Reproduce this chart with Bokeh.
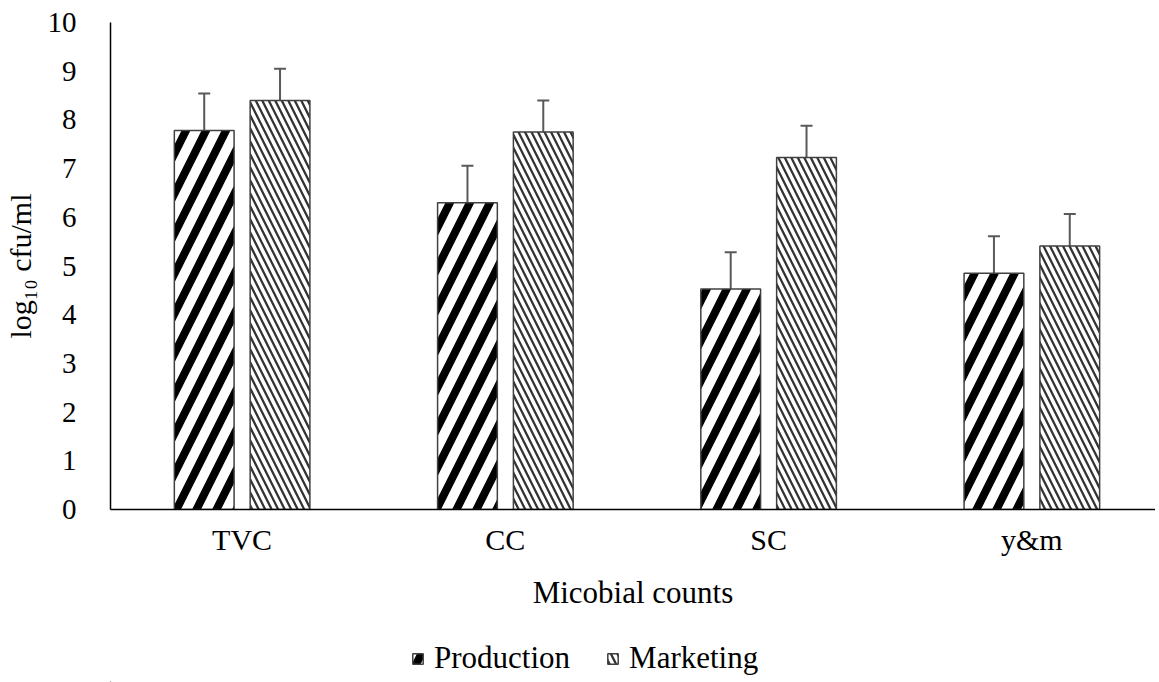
from bokeh.plotting import figure
from bokeh.layouts import column
from bokeh.models import (ColumnDataSource, Range1d, FixedTicker, Whisker, TeeHead,
                          Legend, LegendItem)
from bokeh.embed import file_html
from bokeh.resources import INLINE

categories = ["TVC", "CC", "SC", "y&m"]
production = [7.78, 6.30, 4.53, 4.85]
production_err = [0.76, 0.76, 0.75, 0.76]
marketing = [8.40, 7.75, 7.23, 5.41]
marketing_err = [0.65, 0.65, 0.65, 0.66]
y_ticks = [0, 1, 2, 3, 4, 5, 6, 7, 8, 9, 10]

FONT = "Liberation Serif"
centers = [i + 0.5 for i in range(len(categories))]
off = 0.144
bw = 0.227

src_p = ColumnDataSource(dict(
    x=[c - off for c in centers], top=production,
    upper=[v + e for v, e in zip(production, production_err)],
    lower=[v - e for v, e in zip(production, production_err)]))
src_m = ColumnDataSource(dict(
    x=[c + off for c in centers], top=marketing,
    upper=[v + e for v, e in zip(marketing, marketing_err)],
    lower=[v - e for v, e in zip(marketing, marketing_err)]))

PROD = dict(fill_color="white", line_color="#404040", line_width=1.5,
            hatch_pattern="/", hatch_color="black", hatch_weight=8, hatch_scale=40)
MARK = dict(fill_color="white", line_color="#404040", line_width=1.5,
            hatch_pattern="\\", hatch_color="#333333", hatch_weight=2.3, hatch_scale=13)

W, H1, H2 = 1155, 625, 57
p = figure(width=W, height=H1, output_backend="svg", toolbar_location=None,
           x_range=Range1d(0, (W - 107) / 264), y_range=Range1d(0, 10),
           min_border_left=107, min_border_right=0, min_border_top=22,
           min_border_bottom=H1 - 509)
p.outline_line_color = None
p.grid.visible = False
p.background_fill_color = "white"

p.vbar(x="x", top="top", width=bw, bottom=0, source=src_p, **PROD)
p.vbar(x="x", top="top", width=bw, bottom=0, source=src_m, **MARK)

for src in (src_p, src_m):
    w = Whisker(base="x", upper="upper", lower="lower", source=src,
                line_color="#595959", line_width=2,
                upper_head=TeeHead(size=12, line_color="#595959", line_width=2),
                lower_head=TeeHead(size=12, line_color="#595959", line_width=2))
    p.add_layout(w)

xa = p.xaxis[0]
xa.ticker = FixedTicker(ticks=centers)
xa.major_label_overrides = {c: n for c, n in zip(centers, categories)}
xa.major_tick_line_color = None
xa.minor_tick_line_color = None
xa.axis_line_color = "black"
xa.axis_line_width = 1.5
xa.major_label_text_font = FONT
xa.major_label_text_font_size = "30px"
xa.major_label_text_color = "black"
xa.major_label_standoff = 7
xa.axis_label = "Micobial counts"
xa.axis_label_text_font = FONT
xa.axis_label_text_font_size = "31px"
xa.axis_label_text_font_style = "normal"
xa.axis_label_text_color = "black"
xa.axis_label_standoff = 16

ya = p.yaxis[0]
ya.ticker = FixedTicker(ticks=y_ticks)
ya.major_tick_line_color = None
ya.minor_tick_line_color = None
ya.axis_line_color = "black"
ya.axis_line_width = 1.5
ya.major_label_text_font = FONT
ya.major_label_text_font_size = "29px"
ya.major_label_text_color = "black"
ya.major_label_standoff = 28
ya.axis_label = "log\u2081\u2080 cfu/ml"
ya.axis_label_text_font = FONT
ya.axis_label_text_font_size = "30px"
ya.axis_label_text_font_style = "normal"
ya.axis_label_text_color = "black"
ya.axis_label_standoff = 8

# legend strip below the chart (bars lie outside its ranges, so only legend glyphs show)
q = figure(width=W, height=H2, output_backend="svg", toolbar_location=None,
           x_range=Range1d(100, 101), y_range=Range1d(100, 101),
           x_axis_location=None, y_axis_location=None,
           min_border_left=0, min_border_right=0, min_border_top=0, min_border_bottom=0)
q.outline_line_color = None
q.grid.visible = False
lp = q.vbar(x="x", top="top", width=bw, bottom=0, source=src_p, **PROD)
lm = q.vbar(x="x", top="top", width=bw, bottom=0, source=src_m, **MARK)
legend = Legend(items=[LegendItem(label="Production", renderers=[lp]),
                       LegendItem(label="Marketing", renderers=[lm])],
                orientation="horizontal", location=(301, 6),
                label_text_font=FONT, label_text_font_size="31px",
                label_text_color="black", glyph_width=13, glyph_height=13,
                spacing=36, label_standoff=10, border_line_color=None,
                background_fill_alpha=0, padding=0, margin=0)
q.add_layout(legend, "center")

open("out.html", "w").write(file_html(column(p, q, spacing=0), INLINE))
